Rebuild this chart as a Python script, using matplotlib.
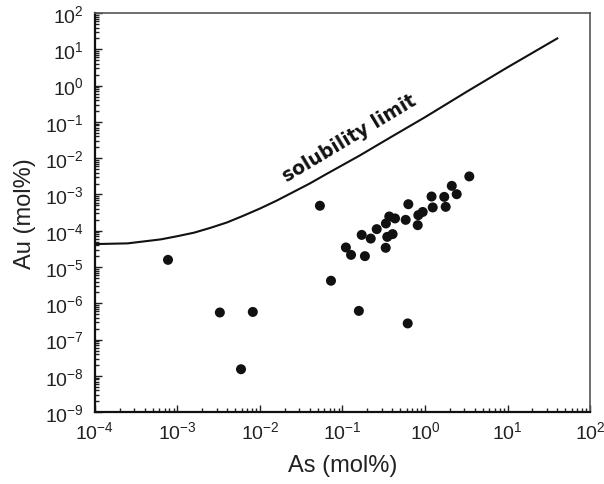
import numpy as np
import matplotlib
matplotlib.use('Agg')
import matplotlib.pyplot as plt
from matplotlib.ticker import LogLocator, NullFormatter

plt.rcParams['font.family'] = ['Liberation Sans', 'DejaVu Sans']
plt.rcParams['mathtext.fontset'] = 'custom'
plt.rcParams['mathtext.rm'] = 'Liberation Sans'
plt.rcParams['mathtext.it'] = 'Liberation Sans:italic'
plt.rcParams['mathtext.bf'] = 'Liberation Sans:bold'

# solubility limit curve (As vs Au, mol%)
sol_as = [1e-4, 2.5e-4, 6.3e-4, 1e-3, 1.6e-3, 2.5e-3, 4.0e-3, 6.3e-3, 1e-2,
          0.016, 0.025, 0.04, 0.063, 0.16, 0.4, 1.0, 3.2, 10.0, 40.0]
sol_au = [4.3e-5, 4.5e-5, 5.8e-5, 7.1e-5, 8.9e-5, 1.2e-4, 1.7e-4, 2.6e-4, 4.1e-4,
          6.8e-4, 1.15e-3, 2.0e-3, 3.6e-3, 0.0117, 0.040, 0.135, 0.68, 3.2, 20.0]

# measured compositions
as_mol = [7.7e-4, 3.27e-3, 8.2e-3, 5.9e-3, 0.0533, 3.44, 2.11, 2.42, 1.71,
          1.20, 1.78, 1.24, 0.628, 0.938, 0.83, 0.816, 0.583, 0.433, 0.369,
          0.336, 0.26, 0.405, 0.349, 0.171, 0.22, 0.110, 0.127, 0.187, 0.334,
          0.0726, 0.158, 0.617]
au_mol = [1.58e-5, 5.6e-7, 5.8e-7, 1.53e-8, 4.9e-4, 3.15e-3, 1.73e-3, 1.02e-3,
          8.6e-4, 8.8e-4, 4.57e-4, 4.4e-4, 5.4e-4, 3.3e-4, 2.7e-4, 1.43e-4,
          2.0e-4, 2.19e-4, 2.48e-4, 1.59e-4, 1.11e-4, 8.1e-5, 6.8e-5, 7.7e-5,
          6.1e-5, 3.47e-5, 2.17e-5, 2.0e-5, 3.4e-5, 4.2e-6, 6.2e-7, 2.8e-7]

fig = plt.figure(figsize=(6.04, 4.85), dpi=100)
ax = fig.add_axes([0.157, 0.148, 0.820, 0.823])

ax.plot(sol_as, sol_au, color='#111111', lw=1.5)
ax.scatter(as_mol, au_mol, s=52, color='#111111', edgecolors='none', zorder=3)

ax.set_xscale('log')
ax.set_yscale('log')
ax.set_xlim(1e-4, 1e2)
ax.set_ylim(1e-9, 1e2)

for axis in [ax.xaxis, ax.yaxis]:
    axis.set_major_locator(LogLocator(base=10, numticks=20))
    axis.set_minor_locator(LogLocator(base=10, subs=np.arange(2, 10), numticks=20))
    axis.set_minor_formatter(NullFormatter())

ax.tick_params(which='both', direction='in', top=False, right=False,
               width=1.0, color='#222222')
ax.tick_params(which='major', length=5, labelsize=14, labelcolor='#222222')
ax.tick_params(axis='x', which='major', pad=6)
ax.tick_params(axis='y', which='major', pad=8)
ax.tick_params(which='minor', length=3)

for side in ['left', 'bottom']:
    ax.spines[side].set_linewidth(1.6)
    ax.spines[side].set_color('#111111')
for side in ['top', 'right']:
    ax.spines[side].set_linewidth(1.2)
    ax.spines[side].set_color('#555555')

ax.set_xlabel('As (mol%)', fontsize=17, color='#222222', labelpad=8)
ax.set_ylabel('Au (mol%)', fontsize=17, color='#222222', labelpad=6)

ax.text(0.12, 0.036, 'solubility limit', fontsize=13.5, fontweight='bold',
        rotation=31, ha='center', va='center', color='#111111',
        rotation_mode='anchor', family='DejaVu Sans')

fig.savefig('out.png', dpi=100, facecolor='white')
